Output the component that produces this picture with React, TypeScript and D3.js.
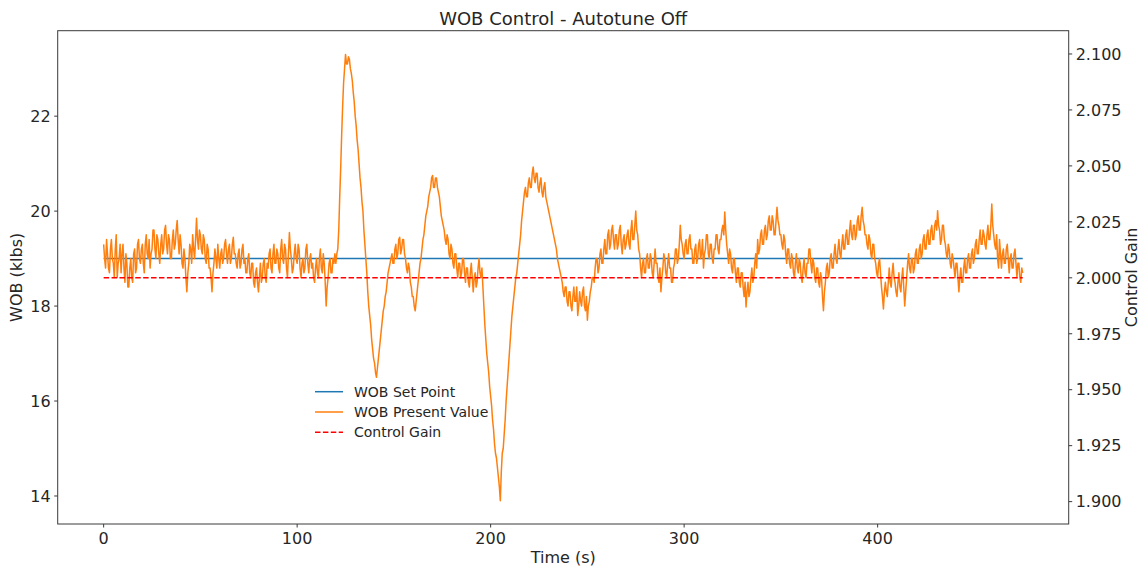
import React, { useEffect } from "react";
import * as d3 from "d3";

// WOB present value sampled every 0.5 s (klbs), t = 0 .. 475 s
const sampleStep = 0.5;
const wobPresent: number[] = [
  19.3, 19.0, 18.8, 19.4, 19.1, 18.8, 18.7, 19.2, 19.4, 19.0, 18.9, 18.6, 19.2, 19.5, 18.6, 18.9, 19.0, 19.3, 18.7, 19.1,
  19.3, 18.8, 18.5, 19.1, 18.9, 18.4, 18.4, 18.8, 19.0, 18.6, 18.5, 19.1, 19.2, 18.7, 18.8, 19.3, 19.4, 19.0, 18.9, 19.2,
  19.3, 18.9, 18.7, 19.3, 19.5, 19.1, 19.0, 19.4, 18.8, 19.1, 19.2, 19.6, 19.6, 19.2, 19.0, 19.5, 19.4, 19.1, 18.9, 19.3,
  19.5, 19.1, 19.2, 19.6, 19.7, 19.3, 19.1, 19.5, 19.4, 19.0, 19.0, 19.4, 19.6, 19.2, 19.3, 19.6, 19.8, 19.4, 19.1, 19.5,
  19.3, 18.9, 18.8, 19.2, 19.0, 18.6, 18.3, 18.7, 18.9, 19.3, 19.2, 18.9, 19.5, 19.2, 19.0, 19.4, 19.85, 19.4, 19.2, 19.6,
  19.5, 19.2, 19.1, 19.5, 19.4, 19.0, 18.9, 19.3, 19.2, 18.8, 18.8, 18.6, 18.3, 18.7, 18.9, 19.2, 19.0, 18.8, 19.3, 19.0,
  18.8, 19.1, 19.2, 18.9, 19.0, 19.3, 19.4, 19.1, 18.9, 19.2, 19.3, 18.9, 19.0, 19.3, 19.45, 19.1, 19.1, 18.9, 18.8, 19.1,
  19.2, 18.8, 18.9, 19.2, 19.3, 18.9, 19.0, 18.7, 18.7, 19.0, 19.1, 18.7, 18.6, 18.9, 18.9, 18.5, 18.4, 18.7, 18.8, 18.5,
  18.3, 18.6, 18.9, 18.5, 18.6, 18.9, 19.0, 18.6, 18.5, 18.9, 18.8, 19.1, 19.2, 18.8, 18.7, 19.1, 19.3, 18.9, 18.9, 19.2,
  19.1, 18.8, 18.7, 19.2, 19.4, 19.0, 18.9, 19.3, 19.2, 18.8, 18.6, 19.1, 19.55, 19.2, 19.0, 18.7, 18.8, 19.1, 19.3, 19.0,
  18.9, 19.3, 19.2, 18.8, 18.6, 18.9, 19.0, 18.7, 18.8, 19.2, 19.3, 18.9, 18.7, 19.0, 19.1, 18.8, 18.9, 18.6, 18.5, 18.8,
  19.0, 18.7, 18.6, 19.0, 19.2, 18.8, 18.7, 19.1, 18.9, 18.5, 18.0, 18.4, 18.6, 18.9, 19.0, 18.7, 18.7, 19.0, 18.9, 19.1,
  18.9, 19.1, 19.2, 19.6, 20.3, 20.9, 21.6, 22.2, 22.7, 23.0, 23.3, 23.1, 23.1, 23.25, 23.2, 23.0, 22.9, 22.75, 22.5, 22.3,
  22.0, 21.8, 21.5, 21.3, 21.0, 20.7, 20.5, 20.2, 20.0, 19.6, 19.3, 19.0, 18.7, 18.3, 18.0, 17.8, 17.6, 17.3, 17.1, 16.9,
  16.8, 16.6, 16.5, 16.7, 16.9, 17.1, 17.3, 17.5, 17.7, 17.9, 18.0, 18.2, 18.3, 18.5, 18.7, 18.8, 18.9, 19.0, 19.1, 18.9,
  18.9, 19.2, 19.3, 19.0, 19.1, 19.4, 19.45, 19.1, 19.2, 19.4, 19.4, 19.1, 19.0, 18.8, 18.7, 18.9, 18.8, 18.5, 18.4, 18.2,
  18.2, 18.0, 17.9, 18.1, 18.3, 18.5, 18.7, 18.9, 19.0, 19.2, 19.4, 19.5, 19.7, 19.9, 20.0, 20.1, 20.3, 20.4, 20.5, 20.7,
  20.75, 20.5, 20.5, 20.7, 20.7, 20.5, 20.4, 20.3, 20.1, 19.9, 19.8, 19.7, 19.6, 19.4, 19.3, 19.5, 19.4, 19.1, 19.0, 19.3,
  19.2, 18.9, 18.8, 19.1, 19.1, 18.8, 18.6, 18.9, 18.9, 18.6, 18.7, 19.0, 19.0, 18.7, 18.5, 18.8, 18.8, 18.5, 18.4, 18.7,
  18.9, 18.6, 18.3, 18.6, 18.7, 18.4, 18.5, 18.8, 19.0, 18.7, 18.6, 18.8, 18.4, 18.0, 17.6, 17.3, 17.0, 16.8, 16.6, 16.3,
  16.1, 15.9, 15.6, 15.4, 15.1, 14.9, 14.8, 14.6, 14.4, 14.2, 13.9, 14.5, 14.9, 15.0, 15.3, 15.6, 16.0, 16.3, 16.6, 16.9,
  17.2, 17.5, 17.8, 18.0, 18.2, 18.4, 18.6, 18.7, 18.9, 19.1, 19.3, 19.5, 19.8, 20.0, 20.2, 20.4, 20.5, 20.3, 20.3, 20.6,
  20.7, 20.5, 20.5, 20.8, 20.93, 20.7, 20.6, 20.8, 20.8, 20.5, 20.4, 20.6, 20.7, 20.4, 20.3, 20.5, 20.6, 20.3, 20.2, 20.1,
  20.0, 19.9, 19.8, 19.7, 19.6, 19.5, 19.4, 19.3, 19.2, 19.0, 18.9, 18.8, 18.7, 18.6, 18.5, 18.3, 18.2, 18.4, 18.4, 18.1,
  18.0, 18.3, 18.3, 18.0, 17.9, 18.2, 18.4, 18.1, 18.1, 18.4, 17.8, 18.0, 18.3, 18.1, 18.0, 18.3, 18.4, 18.0, 17.9, 18.2,
  17.7, 18.0, 18.1, 18.3, 18.4, 18.6, 18.6, 18.5, 18.8, 19.0, 19.0, 18.7, 18.8, 19.1, 19.2, 18.9, 18.9, 19.2, 19.4, 19.1,
  19.1, 19.5, 19.6, 19.2, 19.3, 19.6, 19.7, 19.4, 19.2, 19.5, 19.5, 19.2, 19.3, 19.6, 19.7, 19.3, 19.1, 19.4, 19.5, 19.2,
  19.3, 19.5, 19.6, 19.3, 19.2, 19.6, 19.8, 19.4, 19.4, 19.7, 20.0, 19.6, 19.5, 19.2, 19.1, 18.8, 18.6, 18.9, 19.0, 18.7,
  18.7, 19.0, 19.1, 18.8, 18.8, 19.1, 19.0, 18.7, 18.6, 18.9, 19.2, 18.9, 18.9, 18.6, 18.5, 18.8, 18.3, 18.6, 18.8, 19.1,
  19.0, 18.7, 18.6, 18.9, 19.1, 18.8, 18.8, 18.5, 18.5, 18.8, 18.9, 19.2, 19.2, 18.9, 19.0, 19.3, 19.7, 19.4, 19.3, 19.1,
  19.0, 19.3, 19.4, 19.1, 19.1, 19.4, 19.5, 19.2, 19.2, 18.9, 18.9, 19.2, 19.3, 18.9, 19.0, 19.3, 19.4, 19.0, 19.1, 19.4,
  18.8, 19.1, 19.2, 19.5, 19.5, 19.1, 19.0, 19.3, 19.3, 19.0, 18.9, 19.2, 19.2, 19.5, 19.5, 19.2, 19.1, 19.4, 19.4, 19.6,
  19.7, 19.5, 19.98, 19.6, 19.3, 19.1, 18.9, 19.2, 19.1, 18.8, 18.7, 19.0, 19.0, 18.7, 18.5, 18.8, 18.8, 18.5, 18.4, 18.7,
  18.7, 18.4, 18.2, 18.5, 17.98, 18.3, 18.5, 18.2, 18.3, 18.6, 18.8, 18.5, 18.6, 18.9, 19.1, 18.8, 19.4, 19.1, 19.2, 19.5,
  19.6, 19.3, 19.3, 19.6, 19.7, 19.4, 19.5, 19.8, 19.9, 19.6, 19.6, 19.9, 19.8, 19.5, 19.5, 19.8, 20.08, 19.8, 19.7, 19.5,
  19.5, 19.3, 19.2, 19.5, 19.4, 19.1, 18.9, 19.2, 19.2, 18.9, 18.8, 19.1, 19.0, 18.7, 18.6, 18.9, 19.1, 18.8, 18.7, 19.0,
  18.9, 18.6, 18.5, 18.8, 19.0, 18.7, 18.6, 18.9, 18.9, 19.2, 19.2, 18.9, 18.7, 19.0, 18.9, 18.6, 18.5, 18.8, 18.8, 18.5,
  18.4, 18.7, 18.6, 18.2, 17.9, 18.3, 18.5, 18.8, 18.9, 18.6, 18.7, 19.0, 19.1, 18.8, 18.8, 19.1, 19.3, 19.0, 18.9, 19.2,
  19.4, 19.1, 19.0, 19.3, 19.5, 19.2, 19.2, 19.5, 19.6, 19.3, 19.3, 19.6, 19.8, 19.5, 19.4, 19.7, 19.7, 19.4, 19.5, 19.8,
  19.9, 19.6, 19.6, 19.9, 20.08, 19.8, 19.7, 19.5, 19.5, 19.3, 19.2, 19.5, 19.4, 19.1, 19.0, 19.3, 19.3, 19.0, 18.9, 18.7,
  18.6, 18.9, 19.0, 18.7, 18.4, 18.2, 17.94, 18.3, 18.5, 18.3, 18.2, 18.5, 18.8, 18.5, 18.4, 18.7, 18.9, 18.6, 18.5, 18.3,
  18.2, 18.5, 18.7, 18.4, 18.3, 18.6, 18.8, 18.4, 18.0, 18.3, 18.6, 18.9, 19.1, 18.8, 18.7, 19.0, 19.0, 18.7, 18.8, 19.1,
  19.2, 18.9, 18.9, 19.2, 19.3, 19.0, 19.1, 19.4, 19.5, 19.2, 19.2, 19.5, 19.6, 19.3, 19.3, 19.6, 19.7, 19.4, 19.4, 19.7,
  19.8, 19.6, 20.01, 19.7, 19.6, 19.3, 19.4, 19.7, 19.7, 19.4, 19.3, 19.1, 19.0, 19.3, 19.2, 18.9, 18.8, 19.1, 19.0, 18.8,
  18.6, 18.9, 18.9, 18.6, 18.3, 18.6, 18.8, 18.5, 18.5, 18.8, 19.0, 18.7, 18.7, 19.0, 19.1, 18.8, 18.8, 19.1, 19.2, 18.9,
  19.0, 19.3, 19.4, 19.1, 19.1, 19.4, 19.6, 19.3, 19.3, 19.6, 19.5, 19.3, 19.2, 19.5, 19.7, 19.4, 19.4, 19.7, 20.15, 19.7,
  19.5, 19.3, 19.2, 19.5, 19.0, 18.8, 19.4, 19.1, 18.8, 19.1, 19.2, 18.9, 18.9, 19.2, 19.3, 19.0, 18.7, 19.0, 19.1, 18.8,
  18.8, 19.1, 19.2, 18.9, 18.6, 18.9, 18.9, 18.6, 18.5, 18.8, 18.7,
];

const wobSetPoint = 19.0;
const controlGain = 2.0;
const timeSpan: [number, number] = [0, 475];

const xTicks = [0, 100, 200, 300, 400];
const leftTicks = [14, 16, 18, 20, 22];
const rightTicks = [1.9, 1.925, 1.95, 1.975, 2.0, 2.025, 2.05, 2.075, 2.1];

const legendItems = [
  { label: "WOB Set Point", color: "#1f77b4", dash: "" },
  { label: "WOB Present Value", color: "#ff7f0e", dash: "" },
  { label: "Control Gain", color: "#ff0000", dash: "5.5,2.4" },
];

const W = 1142;
const H = 567;
const plot = { left: 57.7, right: 1068.7, top: 30.7, bottom: 524 };
const FONT = "DejaVu Sans, sans-serif";
const TEXT = "#262626";
const SPINE = "#3a3a3a";

export default function App() {
  useEffect(() => {
    document.body.style.margin = "0";
  }, []);

  const pad = (timeSpan[1] - timeSpan[0]) * 0.05;
  const x = d3
    .scaleLinear()
    .domain([timeSpan[0] - pad, timeSpan[1] + pad])
    .range([plot.left, plot.right]);
  const yL = d3.scaleLinear().domain([13.41, 23.8]).range([plot.bottom, plot.top]);
  const yR = d3.scaleLinear().domain([1.89, 2.1104]).range([plot.bottom, plot.top]);

  const series = wobPresent.map((v, i) => [timeSpan[0] + i * sampleStep, v] as [number, number]);
  const line = d3
    .line<[number, number]>()
    .x((d) => x(d[0]))
    .y((d) => yL(d[1]));

  const cx = (plot.left + plot.right) / 2;
  const cy = (plot.top + plot.bottom) / 2;
  const fmtR = d3.format(".3f");

  const lg = { x: 308, y: 380, w: 178, h: 63, row: 20.3 };

  return (
    <svg width={W} height={H} style={{ display: "block", background: "#fff" }} fontFamily={FONT}>
      <defs>
        <clipPath id="plot-clip">
          <rect x={plot.left} y={plot.top} width={plot.right - plot.left} height={plot.bottom - plot.top} />
        </clipPath>
      </defs>

      {/* title */}
      <text x={cx} y={25} textAnchor="middle" fontSize={18} fill={TEXT}>
        WOB Control - Autotune Off
      </text>

      {/* data */}
      <g clipPath="url(#plot-clip)">
        <line
          x1={x(timeSpan[0])}
          x2={x(timeSpan[1])}
          y1={yL(wobSetPoint)}
          y2={yL(wobSetPoint)}
          stroke="#1f77b4"
          strokeWidth={1.5}
        />
        <path d={line(series) || ""} fill="none" stroke="#ff7f0e" strokeWidth={1.5} strokeLinejoin="round" />
        <line
          x1={x(timeSpan[0])}
          x2={x(timeSpan[1])}
          y1={yR(controlGain)}
          y2={yR(controlGain)}
          stroke="#ff0000"
          strokeWidth={1.5}
          strokeDasharray="5.5,2.4"
        />
      </g>

      {/* frame */}
      <rect
        x={plot.left}
        y={plot.top}
        width={plot.right - plot.left}
        height={plot.bottom - plot.top}
        fill="none"
        stroke={SPINE}
        strokeWidth={1}
      />

      {/* x axis */}
      {xTicks.map((t) => (
        <g key={`x${t}`}>
          <line x1={x(t)} x2={x(t)} y1={plot.bottom} y2={plot.bottom + 3.5} stroke={SPINE} />
          <text x={x(t)} y={543.5} textAnchor="middle" fontSize={16} fill={TEXT}>
            {t}
          </text>
        </g>
      ))}
      <text x={cx} y={563} textAnchor="middle" fontSize={16} fill={TEXT}>
        Time (s)
      </text>

      {/* left axis */}
      {leftTicks.map((v) => (
        <g key={`l${v}`}>
          <line x1={plot.left - 3.5} x2={plot.left} y1={yL(v)} y2={yL(v)} stroke={SPINE} />
          <text x={plot.left - 7} y={yL(v)} dy="0.36em" textAnchor="end" fontSize={16} fill={TEXT}>
            {v}
          </text>
        </g>
      ))}
      <text
        transform={`translate(${22},${cy}) rotate(-90)`}
        textAnchor="middle"
        fontSize={16}
        fill={TEXT}
      >
        WOB (klbs)
      </text>

      {/* right axis */}
      {rightTicks.map((v) => (
        <g key={`r${v}`}>
          <line x1={plot.right} x2={plot.right + 3.5} y1={yR(v)} y2={yR(v)} stroke={SPINE} />
          <text x={plot.right + 7} y={yR(v)} dy="0.36em" textAnchor="start" fontSize={16} fill={TEXT}>
            {fmtR(v)}
          </text>
        </g>
      ))}
      <text
        transform={`translate(${1137},${cy}) rotate(-90)`}
        textAnchor="middle"
        fontSize={16}
        fill={TEXT}
      >
        Control Gain
      </text>

      {/* legend */}
      <g>
        <rect x={lg.x} y={lg.y} width={lg.w} height={lg.h} fill="#fff" fillOpacity={0.8} rx={3} />
        {legendItems.map((item, i) => {
          const ry = lg.y + 11.7 + i * lg.row;
          return (
            <g key={item.label}>
              <line
                x1={315}
                x2={343}
                y1={ry}
                y2={ry}
                stroke={item.color}
                strokeWidth={1.5}
                strokeDasharray={item.dash || undefined}
              />
              <text x={354} y={ry} dy="0.36em" fontSize={14} fill={TEXT}>
                {item.label}
              </text>
            </g>
          );
        })}
      </g>
    </svg>
  );
}
